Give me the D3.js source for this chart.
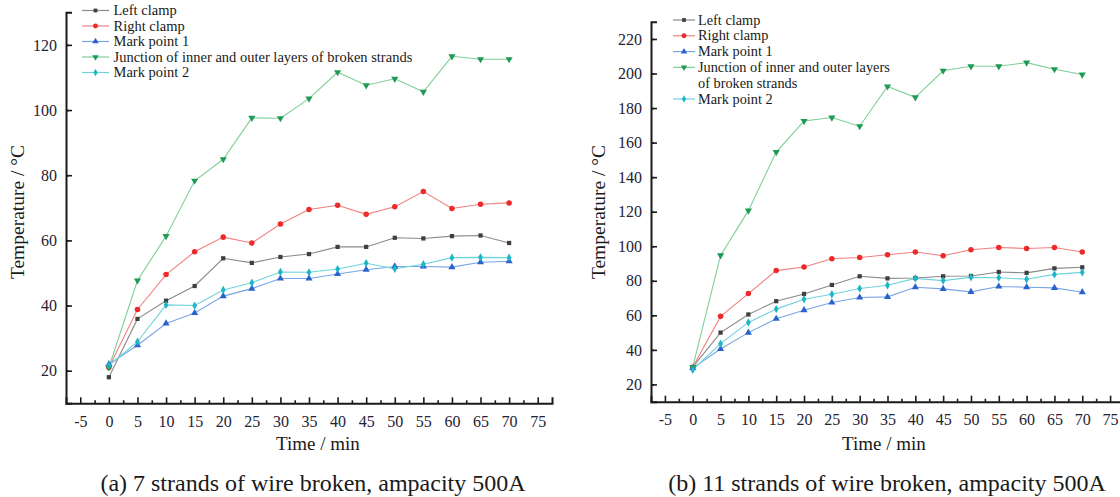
<!DOCTYPE html>
<html><head><meta charset="utf-8">
<script src="https://cdn.jsdelivr.net/npm/d3@7"></script>
<style>
html,body{margin:0;padding:0;background:#fff;}
svg{display:block;}
svg text{font-family:"Liberation Serif","Tinos","Times New Roman","DejaVu Serif",serif !important;}
</style></head>
<body>
<svg id="chart" width="1120" height="497"></svg>
<script>
const times = [0,5,10,15,20,25,30,35,40,45,50,55,60,65,70];
const seriesNames = ["Left clamp","Right clamp","Mark point 1","Junction of inner and outer layers of broken strands","Mark point 2"];
const xTicks = [-5,0,5,10,15,20,25,30,35,40,45,50,55,60,65,70,75];

// (a) 7 strands broken
const aLeftClamp  = [18,35.9,41.5,46,54.5,53.1,54.9,55.8,58,58,60.8,60.6,61.3,61.5,59.2];
const aRightClamp = [21,38.8,49.5,56.5,61,59.2,65,69.5,70.8,68,70.3,75,69.8,71.1,71.5];
const aMark1      = [22,27.8,34.5,37.7,42.9,45.2,48.3,48.3,49.7,51,52,52,51.8,53.3,53.6];
const aJunction   = [21,47.7,61.3,78.3,84.9,97.6,97.5,103.5,111.6,107.6,109.6,105.6,116.5,115.6,115.6];
const aMark2      = [21.6,28.9,40.2,40,44.8,47,50.3,50.2,51.2,53,51.3,52.7,54.7,54.8,54.7];
const aYTicks = [20,40,60,80,100,120];

// (b) 11 strands broken
const bLeftClamp  = [30,50,60.5,68.2,72.4,77.6,82.6,81.4,81.6,82.6,82.8,85.1,84.6,87.2,87.8];
const bRightClamp = [30,59.4,72.6,85.9,88,92.8,93.5,95.1,96.7,94.5,98,99.3,98.7,99.3,96.7];
const bMark1      = [29.5,40.5,50,58,63,67.4,70.3,70.7,76.3,75.3,73.6,76.7,76.3,75.9,73.4];
const bJunction   = [30,94.7,120.6,154.5,172.5,174.5,169.5,192.5,186.2,201.6,204.2,204.2,206.3,202.5,199.4];
const bMark2      = [28.5,43.6,55.9,63.6,69.3,72.2,75.5,77.4,81.4,80.1,82,81.8,80.9,83.7,84.9];
const bYTicks = [20,40,60,80,100,120,140,160,180,200,220];

const lineColors   = ["#8a8a8a","#f08080","#7aa6e6","#7fcf98","#6fd3dc"];
const markerColors = ["#3f3f3f","#ee2b2b","#2a62cc","#1f9a55","#1fb5c7"];
const markerTypes  = [d3.symbolSquare,d3.symbolCircle,d3.symbolTriangle,"down",d3.symbolDiamond];
const markerSizes  = [18,24,22,22,20];
const FONT = '"Liberation Serif","Tinos","Times New Roman","DejaVu Serif",serif';

const svg = d3.select("#chart");

function drawMarker(g, type, size, color, x, y){
  let sym = type === "down" ? d3.symbolTriangle : type;
  g.append("path")
    .attr("d", d3.symbol().type(sym).size(size)())
    .attr("transform", `translate(${x},${y})` + (type==="down" ? " rotate(180)" : ""))
    .attr("fill", color);
}

function drawChart(cfg){
  const x = d3.scaleLinear().domain([-7.5,77.5]).range(cfg.xr);
  const y = d3.scaleLinear().domain(cfg.yd).range(cfg.yr);
  const g = svg.append("g").style("font-family", FONT);

  cfg.data.forEach((vals,i)=>{
    const line = d3.line().x((d,j)=>x(times[j])).y(d=>y(d));
    g.append("path").datum(vals).attr("d",line)
      .attr("fill","none").attr("stroke",lineColors[i]).attr("stroke-width",1.1);
  });
  cfg.data.forEach((vals,i)=>{
    vals.forEach((v,j)=>drawMarker(g, markerTypes[i], markerSizes[i], markerColors[i], x(times[j]), y(v)));
  });

  const fmt = d => String(d);
  const xAxis = d3.axisBottom(x).tickValues(xTicks).tickSize(-6).tickPadding(12).tickFormat(fmt);
  const xa = g.append("g").attr("transform",`translate(0,${cfg.yr[0]})`).call(xAxis);
  const xMinor = d3.axisBottom(x).tickValues(d3.range(-2.5,77.5,5)).tickSize(-3).tickFormat("");
  const xm = g.append("g").attr("transform",`translate(0,${cfg.yr[0]})`).call(xMinor);
  xm.select(".domain").remove();

  const yAxis = d3.axisLeft(y).tickValues(cfg.yt).tickSize(-6).tickPadding(9).tickFormat(fmt);
  const ya = g.append("g").attr("transform",`translate(${cfg.xr[0]},0)`).call(yAxis);
  const minorY = d3.range(cfg.yd[0]+10, cfg.yd[1]+1, 20);
  const yMinor = d3.axisLeft(y).tickValues(minorY).tickSize(-3).tickFormat("");
  const ym = g.append("g").attr("transform",`translate(${cfg.xr[0]},0)`).call(yMinor);
  ym.select(".domain").remove();

  [xa,ya,xm,ym].forEach(a=>a.attr("font-family",FONT));
  [xa,ya].forEach(a=>{
    a.select(".domain").attr("stroke","#1a1a1a").attr("stroke-width",2);
    a.selectAll(".tick line").attr("stroke","#1a1a1a").attr("stroke-width",1.6);
    a.selectAll(".tick text").attr("font-size",16).attr("fill","#262233");
  });
  [xm,ym].forEach(a=>a.selectAll(".tick line").attr("stroke","#1a1a1a").attr("stroke-width",1.6));

  g.append("text").attr("x",cfg.xtx).attr("y",450)
    .attr("text-anchor","middle").attr("font-size",19).attr("fill","#1a1a1a").text("Time / min");
  g.append("text").attr("transform",`translate(${cfg.ytx},212) rotate(-90)`)
    .attr("text-anchor","middle").attr("font-size",19.5).attr("fill","#1a1a1a").text("Temperature / °C");

  g.append("text").attr("x",cfg.capx).attr("y",491).attr("text-anchor","middle")
    .attr("font-size",24).attr("fill","#1a1a1a").text(cfg.caption);

  const lg = g.append("g");
  let rowY = cfg.legY;
  seriesNames.forEach((name,i)=>{
    lg.append("line").attr("x1",cfg.legX).attr("x2",cfg.legX+cfg.legLen).attr("y1",rowY).attr("y2",rowY)
      .attr("stroke",lineColors[i]).attr("stroke-width",1.2);
    drawMarker(lg, markerTypes[i], markerSizes[i]*0.8, markerColors[i], cfg.legX+cfg.legLen/2, rowY);
    const lines = cfg.legWrap && i===3 ? ["Junction of inner and outer layers","of broken strands"] : [name];
    lines.forEach((t,k)=>{
      lg.append("text").attr("x",cfg.legTx).attr("y",rowY+4.5+k*cfg.legDy).attr("font-size",cfg.legFs).attr("fill","#1a1a1a").text(t);
    });
    rowY += cfg.legDy*lines.length;
  });
}

drawChart({xr:[66,552], yr:[403.3,12.3], yd:[10,130], yt:aYTicks,
  data:[aLeftClamp,aRightClamp,aMark1,aJunction,aMark2],
  ytx:24, xtx:318, capx:313, caption:"(a) 7 strands of wire broken, ampacity 500A",
  legX:82, legLen:27, legTx:113.5, legFs:14.5, legY:10.5, legDy:15.5, legWrap:false});

drawChart({xr:[651,1124], yr:[401.7,21.7], yd:[10,230], yt:bYTicks,
  data:[bLeftClamp,bRightClamp,bMark1,bJunction,bMark2],
  ytx:605, xtx:884, capx:887, caption:"(b) 11 strands of wire broken, ampacity 500A",
  legX:673, legLen:22, legTx:698, legFs:14.3, legY:20, legDy:15.8, legWrap:true});
</script>
</body></html>
